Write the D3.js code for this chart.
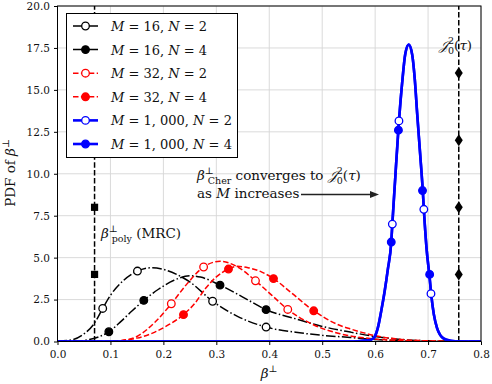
<!DOCTYPE html>
<html>
<head>
<meta charset="utf-8">
<script src="https://cdn.jsdelivr.net/npm/d3@7"></script>
<style>
  body { margin: 0; background: #fff; }
  svg { display: block; font-family: "DejaVu Serif", serif; }
</style>
</head>
<body>
<script>
// values
const xTicks = [0, 0.1, 0.2, 0.3, 0.4, 0.5, 0.6, 0.7, 0.8];
const yTicks = [0, 2.5, 5, 7.5, 10, 12.5, 15, 17.5, 20];

// analytical PDF curves [beta, pdf]
const curveM16N2 = [[0,0.02],[0.03,0.12],[0.05,0.45],[0.07,1.1],[0.0854,1.97],[0.1,2.75],[0.125,3.65],[0.151,4.2],[0.178,4.4],[0.2,4.3],[0.225,4.0],[0.25,3.55],[0.293,2.4],[0.34,1.5],[0.394,0.86],[0.45,0.55],[0.5,0.37],[0.553,0.24],[0.6,0.12],[0.65,0.05],[0.7,0.02],[0.8,0]];
const curveM16N4 = [[0,0],[0.04,0.02],[0.06,0.12],[0.08,0.3],[0.097,0.58],[0.12,1.2],[0.14,1.8],[0.163,2.45],[0.19,3.1],[0.22,3.65],[0.25,3.92],[0.27,3.84],[0.307,3.36],[0.35,2.65],[0.394,1.9],[0.45,1.35],[0.5,0.9],[0.553,0.56],[0.6,0.3],[0.65,0.12],[0.7,0.04],[0.8,0]];
const curveM32N2 = [[0,0],[0.1,0],[0.12,0.05],[0.15,0.3],[0.184,1.15],[0.215,2.25],[0.245,3.45],[0.276,4.44],[0.307,4.78],[0.34,4.45],[0.374,3.62],[0.405,2.75],[0.435,1.91],[0.48,1.05],[0.534,0.46],[0.6,0.15],[0.65,0.05],[0.7,0.01],[0.8,0]];
const curveM32N4 = [[0,0],[0.09,0],[0.12,0.05],[0.15,0.2],[0.184,0.56],[0.21,1.0],[0.238,1.6],[0.26,2.3],[0.279,3.14],[0.3,3.85],[0.323,4.32],[0.34,4.48],[0.36,4.4],[0.385,4.15],[0.408,3.75],[0.44,2.95],[0.484,1.83],[0.534,0.95],[0.553,0.75],[0.6,0.35],[0.65,0.12],[0.7,0.04],[0.75,0.01],[0.8,0]];
const curveM1000 = [[0,0],[0.56,0],[0.585,0.05],[0.597,0.2],[0.605,0.8],[0.612,1.9],[0.618,3.0],[0.624,4.3],[0.6305,5.93],[0.6325,7.0],[0.6377,9.6],[0.6445,12.9],[0.651,15.4],[0.657,17.15],[0.6635,17.7],[0.67,17.1],[0.675,15.6],[0.6794,13.6],[0.685,11.2],[0.69,9.0],[0.692,7.9],[0.697,5.6],[0.703,3.8],[0.706,2.8],[0.711,1.6],[0.717,0.8],[0.723,0.38],[0.73,0.17],[0.742,0.05],[0.76,0],[0.8,0]];

// simulated points
const markM16N2 = [[0.0854,1.97],[0.151,4.2],[0.293,2.4],[0.394,0.86]];
const markM16N4 = [[0.097,0.58],[0.163,2.45],[0.307,3.36],[0.394,1.9]];
const markM32N2 = [[0.215,2.25],[0.276,4.44],[0.374,3.62],[0.435,1.91]];
const markM32N4 = [[0.238,1.6],[0.323,4.32],[0.408,3.75],[0.484,1.83]];
const markM1000N2 = [[0.6325,7.0],[0.645,13.15],[0.692,7.88],[0.7055,2.85]];
const markM1000N4 = [[0.6305,5.93],[0.644,12.6],[0.6895,9.0],[0.703,4.0]];

// reference lines
const polyX = 0.070;
const polyMarks = [4, 8];
const jX = 0.758;
const jMarks = [4, 8, 12, 16];

const legendM = ["16", "16", "32", "32", "1, 000", "1, 000"];
const legendN = ["2", "4", "2", "4", "2", "4"];

const W = 492, H = 384;
const FS = 13.5;
const svg = d3.select("body").append("svg").attr("width", W).attr("height", H);

const x = d3.scaleLinear().domain([0, 0.8]).range([57.5, 481]);
const y = d3.scaleLinear().domain([0, 20]).range([341.5, 6]);

svg.append("defs").append("clipPath").attr("id", "clip")
  .append("rect").attr("x", 57.5).attr("y", 6).attr("width", 481 - 57.5).attr("height", 341.5 - 6);

// grid
const grid = svg.append("g").attr("stroke", "#d6d6d6").attr("stroke-width", 0.9);
grid.selectAll(".gx").data(xTicks).enter().append("line")
  .attr("x1", d => x(d)).attr("x2", d => x(d)).attr("y1", y(0)).attr("y2", y(20));
grid.selectAll(".gy").data(yTicks).enter().append("line")
  .attr("x1", x(0)).attr("x2", x(0.8)).attr("y1", d => y(d)).attr("y2", d => y(d));

// axes
const xAxis = svg.append("g").attr("transform", `translate(0,${y(0)})`)
  .call(d3.axisBottom(x).tickValues(xTicks).tickFormat(d3.format(".1f")).tickSizeInner(3.5).tickSizeOuter(0));
const yAxis = svg.append("g").attr("transform", `translate(${x(0)},0)`)
  .call(d3.axisLeft(y).tickValues(yTicks).tickFormat(d3.format(".1f")).tickSizeInner(3.5).tickSizeOuter(0));
[xAxis, yAxis].forEach(a => {
  a.attr("font-family", null).attr("font-size", null);
  a.select(".domain").remove();
  a.selectAll("text").attr("font-size", 10.5).attr("fill", "#111");
  a.selectAll("line").attr("stroke", "#000");
});
xAxis.selectAll("text").attr("dy", "0.95em");
yAxis.selectAll("text").attr("dx", "-0.1em");

const plot = svg.append("g").attr("clip-path", "url(#clip)");
const line = d3.line().x(d => x(d[0])).y(d => y(d[1])).curve(d3.curveMonotoneX);

// vertical reference lines
plot.append("line").attr("x1", x(polyX)).attr("x2", x(polyX)).attr("y1", y(0)).attr("y2", y(20))
  .attr("stroke", "#000").attr("stroke-width", 1.5).attr("stroke-dasharray", "5.5,2.4");
plot.append("line").attr("x1", x(jX)).attr("x2", x(jX)).attr("y1", y(0)).attr("y2", y(20))
  .attr("stroke", "#000").attr("stroke-width", 1.5).attr("stroke-dasharray", "5.5,2.4");
plot.selectAll(".sq").data(polyMarks).enter().append("rect")
  .attr("x", x(polyX) - 3.6).attr("y", d => y(d) - 3.6).attr("width", 7.2).attr("height", 7.2).attr("fill", "#000");
plot.selectAll(".dm").data(jMarks).enter().append("path")
  .attr("d", d => `M${x(jX)},${y(d) - 6}L${x(jX) + 4},${y(d)}L${x(jX)},${y(d) + 6}L${x(jX) - 4},${y(d)}Z`)
  .attr("fill", "#000");

const series = [
  { curve: curveM16N2, marks: markM16N2, color: "#000", dash: "9.6,2.4,1.5,2.4", lw: 1.5, open: true },
  { curve: curveM16N4, marks: markM16N4, color: "#000", dash: "9.6,2.4,1.5,2.4", lw: 1.5, open: false },
  { curve: curveM32N2, marks: markM32N2, color: "#ff0000", dash: "5.5,2.4", lw: 1.5, open: true },
  { curve: curveM32N4, marks: markM32N4, color: "#ff0000", dash: "5.5,2.4", lw: 1.5, open: false },
  { curve: curveM1000, marks: markM1000N2, color: "#0000ff", dash: null, lw: 2.6, open: true },
  { curve: curveM1000, marks: markM1000N4, color: "#0000ff", dash: null, lw: 2.6, open: false }
];

series.forEach(s => {
  plot.append("path").datum(s.curve).attr("d", line)
    .attr("fill", "none").attr("stroke", s.color).attr("stroke-width", s.lw)
    .attr("stroke-dasharray", s.dash);
});
series.forEach(s => {
  plot.selectAll(null).data(s.marks).enter().append("circle")
    .attr("cx", d => x(d[0])).attr("cy", d => y(d[1])).attr("r", 3.8)
    .attr("fill", s.open ? "#fff" : s.color).attr("stroke", s.color).attr("stroke-width", 1.3);
});

// frame
svg.append("rect").attr("x", 57.5).attr("y", 6).attr("width", 481 - 57.5).attr("height", 341.5 - 6)
  .attr("fill", "none").attr("stroke", "#000").attr("stroke-width", 1);

// legend
const lg = svg.append("g");
lg.append("rect").attr("x", 66.5).attr("y", 13.5).attr("width", 171).attr("height", 144)
  .attr("fill", "#fff").attr("stroke", "#000").attr("stroke-width", 1);
series.forEach((s, i) => {
  const cy = 26 + i * 23.6;
  lg.append("line").attr("x1", 73).attr("x2", 98).attr("y1", cy).attr("y2", cy)
    .attr("stroke", s.color).attr("stroke-width", s.lw).attr("stroke-dasharray", s.dash);
  lg.append("circle").attr("cx", 85.5).attr("cy", cy).attr("r", 3.8)
    .attr("fill", s.open ? "#fff" : s.color).attr("stroke", s.color).attr("stroke-width", 1.3);
  const t = lg.append("text").attr("x", 111).attr("y", cy + 5).attr("font-size", 13).attr("fill", "#111");
  t.append("tspan").attr("font-style", "italic").text("M");
  t.append("tspan").text(" = " + legendM[i] + ", ");
  t.append("tspan").attr("font-style", "italic").text("N");
  t.append("tspan").text(" = " + legendN[i]);
});

// axis labels
const yl = svg.append("text").attr("transform", "translate(15,173) rotate(-90)")
  .attr("text-anchor", "middle").attr("font-size", FS).attr("fill", "#111");
yl.append("tspan").text("PDF of ");
yl.append("tspan").attr("font-style", "italic").text("β");
yl.append("tspan").attr("font-size", 9.5).attr("dy", -6).text("⊥");

const xl = svg.append("text").attr("x", 269).attr("y", 378).attr("text-anchor", "middle")
  .attr("font-size", FS).attr("fill", "#111");
xl.append("tspan").attr("font-style", "italic").text("β");
xl.append("tspan").attr("font-size", 9.5).attr("dy", -6).text("⊥");

// annotations
function jTerm(t) {
  t.append("tspan").attr("font-style", "italic").text("𝒥");
  t.append("tspan").attr("font-size", 9.5).attr("dy", -6).text("2");
  t.append("tspan").attr("font-size", 9.5).attr("dx", -6).attr("dy", 10).text("0");
  t.append("tspan").attr("dy", -4).text("(");
  t.append("tspan").attr("font-style", "italic").text("τ");
  t.append("tspan").text(")");
}
const jt = svg.append("text").attr("x", 439).attr("y", 50).attr("font-size", FS).attr("fill", "#111");
jTerm(jt);

const pt = svg.append("text").attr("x", 101).attr("y", 238).attr("font-size", FS).attr("fill", "#111");
pt.append("tspan").attr("font-style", "italic").text("β");
pt.append("tspan").attr("font-size", 9.5).attr("dy", -6).text("⊥");
pt.append("tspan").attr("font-size", 9.5).attr("dx", -6).attr("dy", 10).text("poly");
pt.append("tspan").attr("dy", -4).text(" (MRC)");

const ct = svg.append("text").attr("x", 197).attr("y", 180).attr("font-size", FS).attr("fill", "#111");
ct.append("tspan").attr("font-style", "italic").text("β");
ct.append("tspan").attr("font-size", 9.5).attr("dy", -6).text("⊥");
ct.append("tspan").attr("font-size", 9.5).attr("dx", -6).attr("dy", 10).text("Cher");
ct.append("tspan").attr("dy", -4).text(" converges to ");
jTerm(ct);
const ct2 = svg.append("text").attr("x", 197).attr("y", 198).attr("font-size", FS).attr("fill", "#111");
ct2.append("tspan").text("as ");
ct2.append("tspan").attr("font-style", "italic").text("M");
ct2.append("tspan").text(" increases");

svg.append("line").attr("x1", 301).attr("x2", 372).attr("y1", 194.5).attr("y2", 194.5)
  .attr("stroke", "#222").attr("stroke-width", 1.4);
svg.append("path").attr("d", "M379,194.5L370,191L370,198Z").attr("fill", "#222");
</script>
</body>
</html>
